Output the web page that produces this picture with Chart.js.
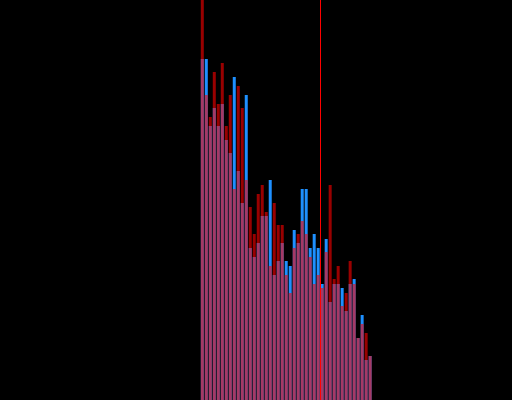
<!DOCTYPE html>
<html>
<head>
<meta charset="utf-8">
<script src="https://cdn.jsdelivr.net/npm/chart.js@4/dist/chart.umd.min.js"></script>
<style>
  html, body { margin: 0; padding: 0; background: #000; }
  #chart { display: block; }
</style>
</head>
<body>
<canvas id="chart" width="512" height="400"></canvas>
<script>
// 128 slots across the axis, the bars fill slots 50..92
var slotCount = 128;
var firstSlot = 50;

var redValues = [420, 305, 283, 328, 296, 337, 274, 305, 211, 314, 292, 220, 193, 166, 206, 215,
                 188, 134, 197, 175, 175, 125, 107, 152, 166, 179, 166, 143, 116, 125, 112, 148,
                 215, 121, 134, 94, 107, 139, 116, 62, 76, 67, 44];
var blueValues = [341, 341, 274, 292, 274, 296, 260, 247, 323, 229, 197, 305, 152, 143, 157, 184,
                  184, 220, 125, 139, 157, 139, 134, 170, 157, 211, 211, 152, 166, 152, 116, 161,
                  98, 116, 116, 112, 89, 116, 121, 62, 85, 40, 44];
var markerSlot = 79.5;

var labels = [];
for (var i = 0; i < slotCount; i++) labels.push(String(i));

function pad(values) {
	var out = [];
	for (var i = 0; i < slotCount; i++) {
		var k = i - firstSlot;
		out.push(k >= 0 && k < values.length ? values[k] : null);
	}
	return out;
}

var markerLine = {
	id: 'markerLine',
	afterDatasetsDraw: function(chart) {
		var ctx = chart.ctx;
		var x = Math.floor(chart.scales.x.getPixelForValue(markerSlot)) + 0.5;
		ctx.save();
		ctx.strokeStyle = '#ff0000';
		ctx.lineWidth = 1;
		ctx.beginPath();
		ctx.moveTo(x, 0);
		ctx.lineTo(x, chart.height);
		ctx.stroke();
		ctx.restore();
	}
};

var ctx = document.getElementById('chart');
var barChart = new Chart(ctx, {
	type: 'bar',
	data: {
		labels: labels,
		datasets: [
			{
				label: 'red',
				data: pad(redValues),
				backgroundColor: 'rgba(255, 0, 0, 0.6)',
				borderWidth: 0,
				grouped: false,
				barPercentage: 1,
				categoryPercentage: 0.75
			},
			{
				label: 'blue',
				data: pad(blueValues),
				backgroundColor: 'rgb(30, 144, 255)',
				borderWidth: 0,
				grouped: false,
				barPercentage: 1,
				categoryPercentage: 0.75
			}
		]
	},
	options: {
		responsive: false,
		animation: false,
		layout: { padding: { left: 0.5, right: -0.5, top: 0, bottom: 0 } },
		plugins: {
			legend: { display: false },
			tooltip: { enabled: false }
		},
		scales: {
			x: { display: false },
			y: { display: false, min: 0, max: 400 }
		}
	},
	plugins: [markerLine]
});
</script>
</body>
</html>
